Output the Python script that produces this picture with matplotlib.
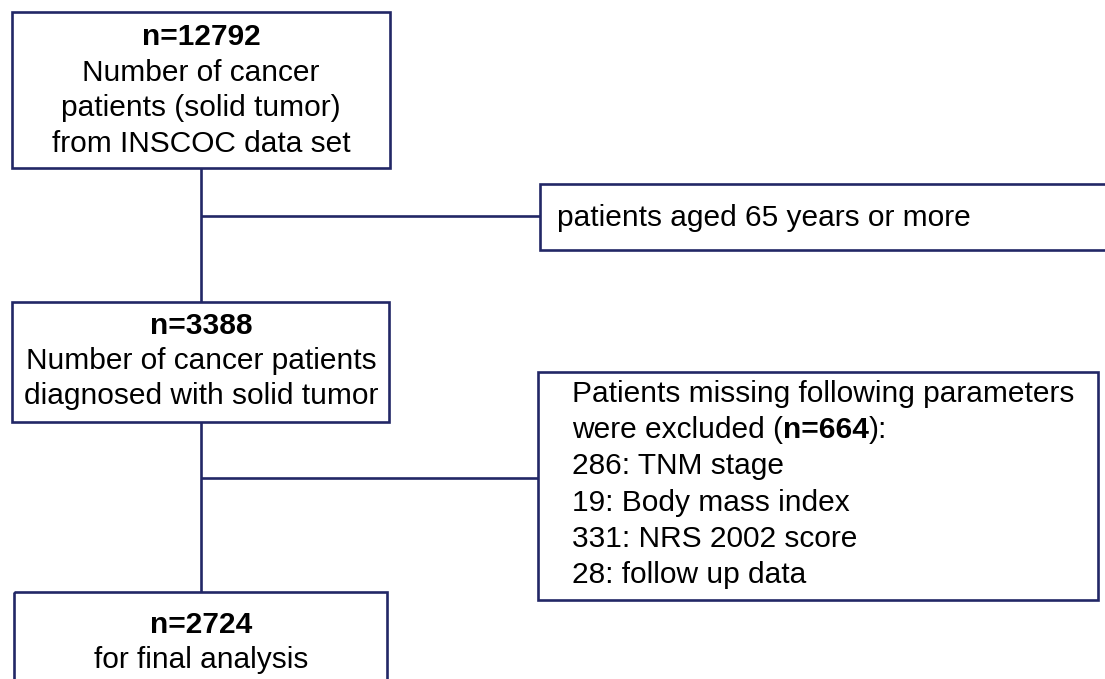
import matplotlib
matplotlib.use("Agg")
import matplotlib.pyplot as plt
from matplotlib.patches import Rectangle

# ---- content ----
box1_title = "n=12792"
box1_lines = ["Number of cancer", "patients (solid tumor)", "from INSCOC data set"]
side1_lines = ["patients aged 65 years or more"]
box2_title = "n=3388"
box2_lines = ["Number of cancer patients", "diagnosed with solid tumor"]
side2_head = "Patients missing following parameters"
side2_excl_n = "n=664"
side2_items = ["286: TNM stage", "19: Body mass index", "331: NRS 2002 score", "28: follow up data"]
box3_title = "n=2724"
box3_lines = ["for final analysis"]

W, H = 1105, 679
fig = plt.figure(figsize=(W / 100, H / 100), dpi=100)
ax = fig.add_axes([0, 0, 1, 1])
ax.set_xlim(0, W)
ax.set_ylim(H, 0)
ax.axis("off")

COL = "#222766"
LW = 1.9
FONT = "Liberation Sans"
FS = 21.5

def box(x0, y0, x1, y1, right=True):
    if right:
        ax.add_patch(Rectangle((x0, y0), x1 - x0, y1 - y0, fill=False,
                               edgecolor=COL, lw=LW))
    else:
        ax.plot([x1, x0, x0, x1], [y0, y0, y1, y1], color=COL, lw=LW,
                solid_joinstyle="miter")

def line(xs, ys):
    ax.plot(xs, ys, color=COL, lw=LW, solid_capstyle="butt")

def txt(x, y, s, ha="center", bold=False):
    ax.text(x, y, s, ha=ha, va="center", fontsize=FS, family=FONT,
            fontweight="bold" if bold else "normal", color="black")

# boxes
box(12, 12, 390, 168)
box(12, 302, 389, 422)
box(14, 592, 387, 700)
box(540, 184, 1106, 250, right=False)
box(538, 372, 1098, 600)

# connectors
cx = 201
line([cx, cx], [168, 302])
line([cx, cx], [422, 592])
line([cx, 540], [216, 216])
line([cx, 538], [478, 478])

# box 1 text
cx1 = 201
txt(cx1, 37, box1_title, bold=True)
for i, s in enumerate(box1_lines):
    txt(cx1, 73 + i * 35.5, s)

# box 2 text
txt(cx1, 326, box2_title, bold=True)
for i, s in enumerate(box2_lines):
    txt(cx1, 361 + i * 35.5, s)

# box 3 text
txt(cx1, 625, box3_title, bold=True)
for i, s in enumerate(box3_lines):
    txt(cx1, 660 + i * 35.5, s)

# side 1
txt(557, 218, side1_lines[0], ha="left")

# side 2
tx = 572
y0 = 394
sp = 36.2
txt(tx, y0, side2_head, ha="left")
t1 = ax.text(tx, y0 + sp, "were excluded (", ha="left", va="center",
             fontsize=FS, family=FONT, color="black")
fig.canvas.draw()
r = fig.canvas.get_renderer()
bb = t1.get_window_extent(renderer=r)
inv = ax.transData.inverted()
xend = inv.transform((bb.x1, 0))[0]
t2 = ax.text(xend, y0 + sp, side2_excl_n, ha="left", va="center",
             fontsize=FS, family=FONT, fontweight="bold", color="black")
bb2 = t2.get_window_extent(renderer=r)
xend2 = inv.transform((bb2.x1, 0))[0]
ax.text(xend2, y0 + sp, "):", ha="left", va="center",
        fontsize=FS, family=FONT, color="black")
for i, s in enumerate(side2_items):
    txt(tx, y0 + (i + 2) * sp, s, ha="left")

fig.savefig("out.png", dpi=100)
